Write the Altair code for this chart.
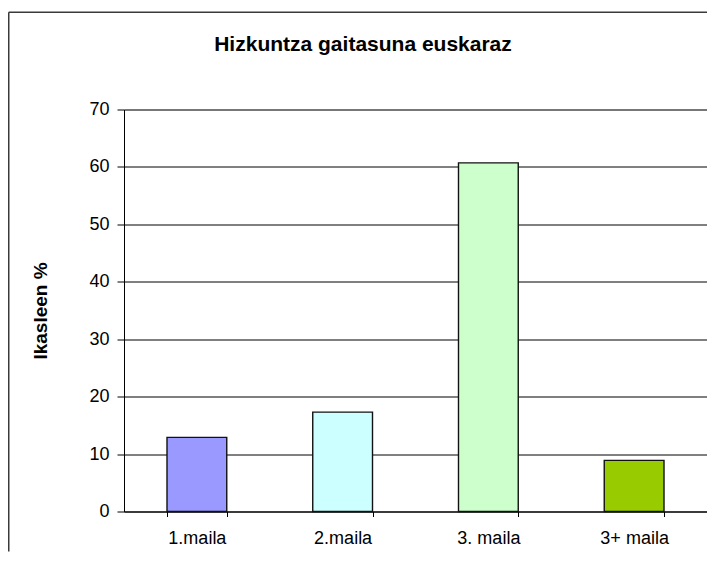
import altair as alt
import pandas as pd

categories = ["1.maila", "2.maila", "3. maila", "3+ maila"]
values = [12.9, 17.3, 60.7, 8.9]
colors = ["#9999FF", "#CCFFFF", "#CCFFCC", "#99CC00"]
y_ticks = [0, 10, 20, 30, 40, 50, 60, 70]
title_text = "Hizkuntza gaitasuna euskaraz"
y_title = "Ikasleen %"

FONT = "Liberation Sans"

df = pd.DataFrame({"cat": categories, "val": values, "col": colors})

bars = alt.Chart(df).mark_bar(stroke="#111111", strokeWidth=1.4).encode(
    x=alt.X(
        "cat:N",
        sort=categories,
        title="",
        scale=alt.Scale(paddingInner=0.59, paddingOuter=0.295),
        axis=alt.Axis(
            labelAngle=0,
            tickBand="extent",
            tickSize=5,
            tickColor="#000000",
            domainColor="#000000",
            labelPadding=13,
            labelFontSize=18,
            labelFont=FONT,
            labelColor="#000000",
            grid=False,
        ),
    ),
    y=alt.Y(
        "val:Q",
        scale=alt.Scale(domain=[0, 70], nice=False),
        axis=alt.Axis(
            values=y_ticks,
            grid=True,
            gridColor="#000000",
            gridWidth=1,
            domainColor="#000000",
            tickColor="#000000",
            tickSize=7,
            labelPadding=8,
            labelFontSize=18,
            labelFont=FONT,
            labelColor="#000000",
            title=y_title,
            titleFont=FONT,
            titleFontSize=19,
            titleFontWeight="bold",
            titleColor="#000000",
            titleX=-84,
            titleY=201,
            titleAngle=270,
            titleAlign="center",
            titleBaseline="middle",
        ),
    ),
    color=alt.Color("col:N", scale=None, legend=None),
)

one = pd.DataFrame({"t": [title_text]})

title_mark = alt.Chart(one).mark_text(
    font=FONT, fontSize=21, fontWeight="bold", color="#000000",
    align="center", baseline="alphabetic",
).encode(
    text="t:N",
    x=alt.value(239),
    y=alt.value(-58.5),
)

frame_top = alt.Chart(one).mark_rule(color="#3a3a3a", strokeWidth=1.5).encode(
    x=alt.value(-115.25),
    x2=alt.value(583),
    y=alt.value(-97.2),
)

frame_left = alt.Chart(one).mark_rule(color="#3a3a3a", strokeWidth=1.5).encode(
    x=alt.value(-115.25),
    y=alt.value(-97.2),
    y2=alt.value(442),
)

chart = alt.layer(frame_top, frame_left, bars, title_mark).properties(
    width=583,
    height=402,
    autosize=alt.AutoSizeParams(type="none"),
    padding={"left": 116, "top": 101.5, "right": 0, "bottom": 40},
).configure_view(strokeWidth=0).configure(background="#ffffff")

chart.save("out.html", embed_options={"renderer": "svg", "actions": False})
